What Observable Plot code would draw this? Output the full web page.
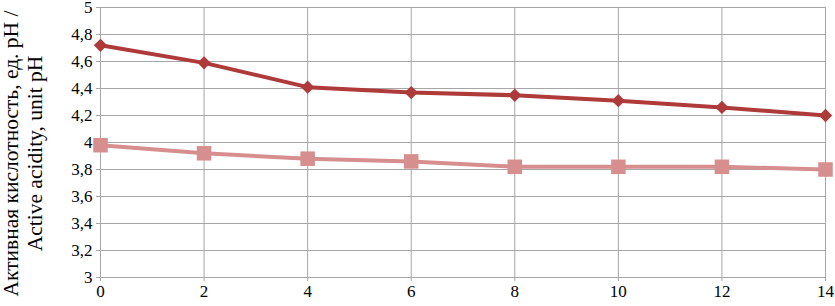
<!DOCTYPE html>
<html><head><meta charset="utf-8">
<script src="https://cdn.jsdelivr.net/npm/d3@7"></script>
<script src="https://cdn.jsdelivr.net/npm/@observablehq/plot@0.6"></script>
<style>body{margin:0;background:#fff} svg, svg text{font-family:'Liberation Serif',serif !important}</style>
</head><body><div id="chart"></div>
<script>
const days = [0, 2, 4, 6, 8, 10, 12, 14];
const series1 = [4.72, 4.59, 4.41, 4.37, 4.35, 4.31, 4.26, 4.20];
const series2 = [3.98, 3.92, 3.88, 3.86, 3.82, 3.82, 3.82, 3.80];
const yTicks = [3, 3.2, 3.4, 3.6, 3.8, 4, 4.2, 4.4, 4.6, 4.8, 5];
const xTicks = [0, 2, 4, 6, 8, 10, 12, 14];
const yLabel = "Активная кислотность, ед. pH /\nActive acidity, unit pH";

const d1 = days.map((d, i) => ({x: d, y: series1[i]}));
const d2 = days.map((d, i) => ({x: d, y: series2[i]}));
const c1 = "#ae3a3a", c2 = "#d68f8e";
const ff = "'Liberation Serif', serif";

const chart = Plot.plot({
  width: 835, height: 306,
  marginLeft: 100, marginRight: 10, marginTop: 7, marginBottom: 29,
  style: {fontFamily: ff, fontSize: "17px", color: "#000", background: "#fff"},
  x: {domain: [0, 14], ticks: xTicks},
  y: {domain: [3, 5], ticks: yTicks},
  marks: [
    Plot.gridX(xTicks, {stroke: "#a6a6a6", strokeOpacity: 1}),
    Plot.gridY(yTicks, {stroke: "#a6a6a6", strokeOpacity: 1}),
    Plot.axisX({ticks: xTicks, tickSize: 4, tickPadding: 3, stroke: "#a6a6a6", label: null, fontSize: 17, fontFamily: ff, fontVariant: "normal"}),
    Plot.axisY({ticks: yTicks, tickSize: 4, tickPadding: 4, stroke: "#a6a6a6", label: null, fontSize: 17, fontFamily: ff, fontVariant: "normal",
      tickFormat: d => String(d).replace(".", ",")}),
    Plot.line(d2, {x: "x", y: "y", stroke: c2, strokeWidth: 4}),
    Plot.dot(d2, {x: "x", y: "y", symbol: "square", r: 8.2, fill: c2, stroke: null}),
    Plot.line(d1, {x: "x", y: "y", stroke: c1, strokeWidth: 4}),
    Plot.dot(d1, {x: "x", y: "y", symbol: "diamond2", r: 6, fill: c1, stroke: null}),
    Plot.text([yLabel], {frameAnchor: "left", dx: -78, dy: 11, rotate: -90, text: d => d,
      fontSize: 21.5, fontFamily: ff, lineHeight: 1.12, textAnchor: "middle", lineAnchor: "middle", fill: "#000"})
  ]
});
document.getElementById("chart").append(chart);
</script></body></html>
